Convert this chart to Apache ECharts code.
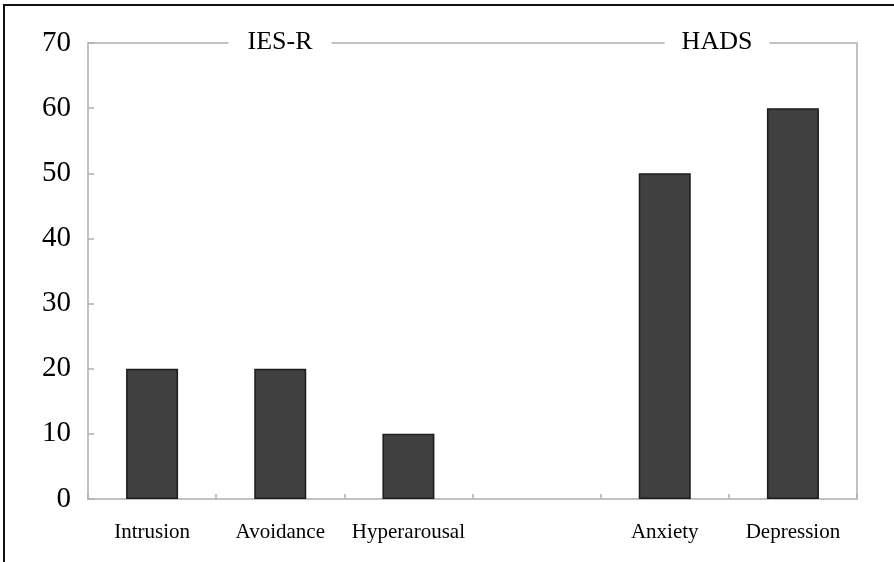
<!DOCTYPE html>
<html>
<head>
<meta charset="utf-8">
<script src="https://cdn.jsdelivr.net/npm/echarts@6/dist/echarts.min.js"></script>
<style>
html,body{margin:0;padding:0;background:#fff;}
#chart{width:894px;height:562px;}
</style>
</head>
<body>
<div id="chart"></div>
<script>
const categories = ['Intrusion', 'Avoidance', 'Hyperarousal', '', 'Anxiety', 'Depression'];
const values = [20, 20, 10, null, 50, 60];
const yMin = 0, yMax = 70, yStep = 10;
const groupLabels = ['IES-R', 'HADS'];

const axisGray = '#c2c2c2';
const serif = '"Liberation Serif", "Times New Roman", serif';

const chart = echarts.init(document.getElementById('chart'), null, {renderer: 'canvas'});
chart.setOption({
  backgroundColor: '#fff',
  animation: false,
  grid: {
    left: 88, right: 37, top: 43, bottom: 63,
    show: true, borderColor: axisGray, borderWidth: 2, backgroundColor: 'transparent'
  },
  xAxis: {
    type: 'category',
    data: categories,
    boundaryGap: true,
    axisLine: {show: true, lineStyle: {color: axisGray, width: 2}},
    axisTick: {show: true, inside: true, length: 5, lineStyle: {color: '#b0b0b0', width: 1.5}},
    axisLabel: {color: '#000', fontFamily: serif, fontSize: 21, margin: 23, interval: 0},
    splitLine: {show: false}
  },
  yAxis: {
    type: 'value',
    min: yMin, max: yMax, interval: yStep,
    axisLine: {show: true, lineStyle: {color: axisGray, width: 2}},
    axisTick: {show: true, inside: true, length: 6, lineStyle: {color: '#b0b0b0', width: 1.5}},
    axisLabel: {color: '#000', fontFamily: serif, fontSize: 29, margin: 17},
    splitLine: {show: false}
  },
  series: [{
    type: 'bar',
    data: values,
    barWidth: 52,
    itemStyle: {color: '#404040', borderColor: '#1c1c1c', borderWidth: 1.5}
  }],
  graphic: [
    {type: 'line', z: 100, shape: {x1: 3, y1: 5, x2: 894, y2: 5}, style: {stroke: '#111', lineWidth: 2}},
    {type: 'line', z: 100, shape: {x1: 4, y1: 4, x2: 4, y2: 562}, style: {stroke: '#111', lineWidth: 2}},
    {type: 'text', z: 100, x: 280, y: 42, style: {
      text: groupLabels[0], font: '26px ' + serif, fill: '#000',
      align: 'center', verticalAlign: 'middle', backgroundColor: '#fff', padding: [4, 19, 4, 19]
    }},
    {type: 'text', z: 100, x: 717, y: 42, style: {
      text: groupLabels[1], font: '26px ' + serif, fill: '#000',
      align: 'center', verticalAlign: 'middle', backgroundColor: '#fff', padding: [4, 17, 4, 17]
    }}
  ]
});
</script>
</body>
</html>
